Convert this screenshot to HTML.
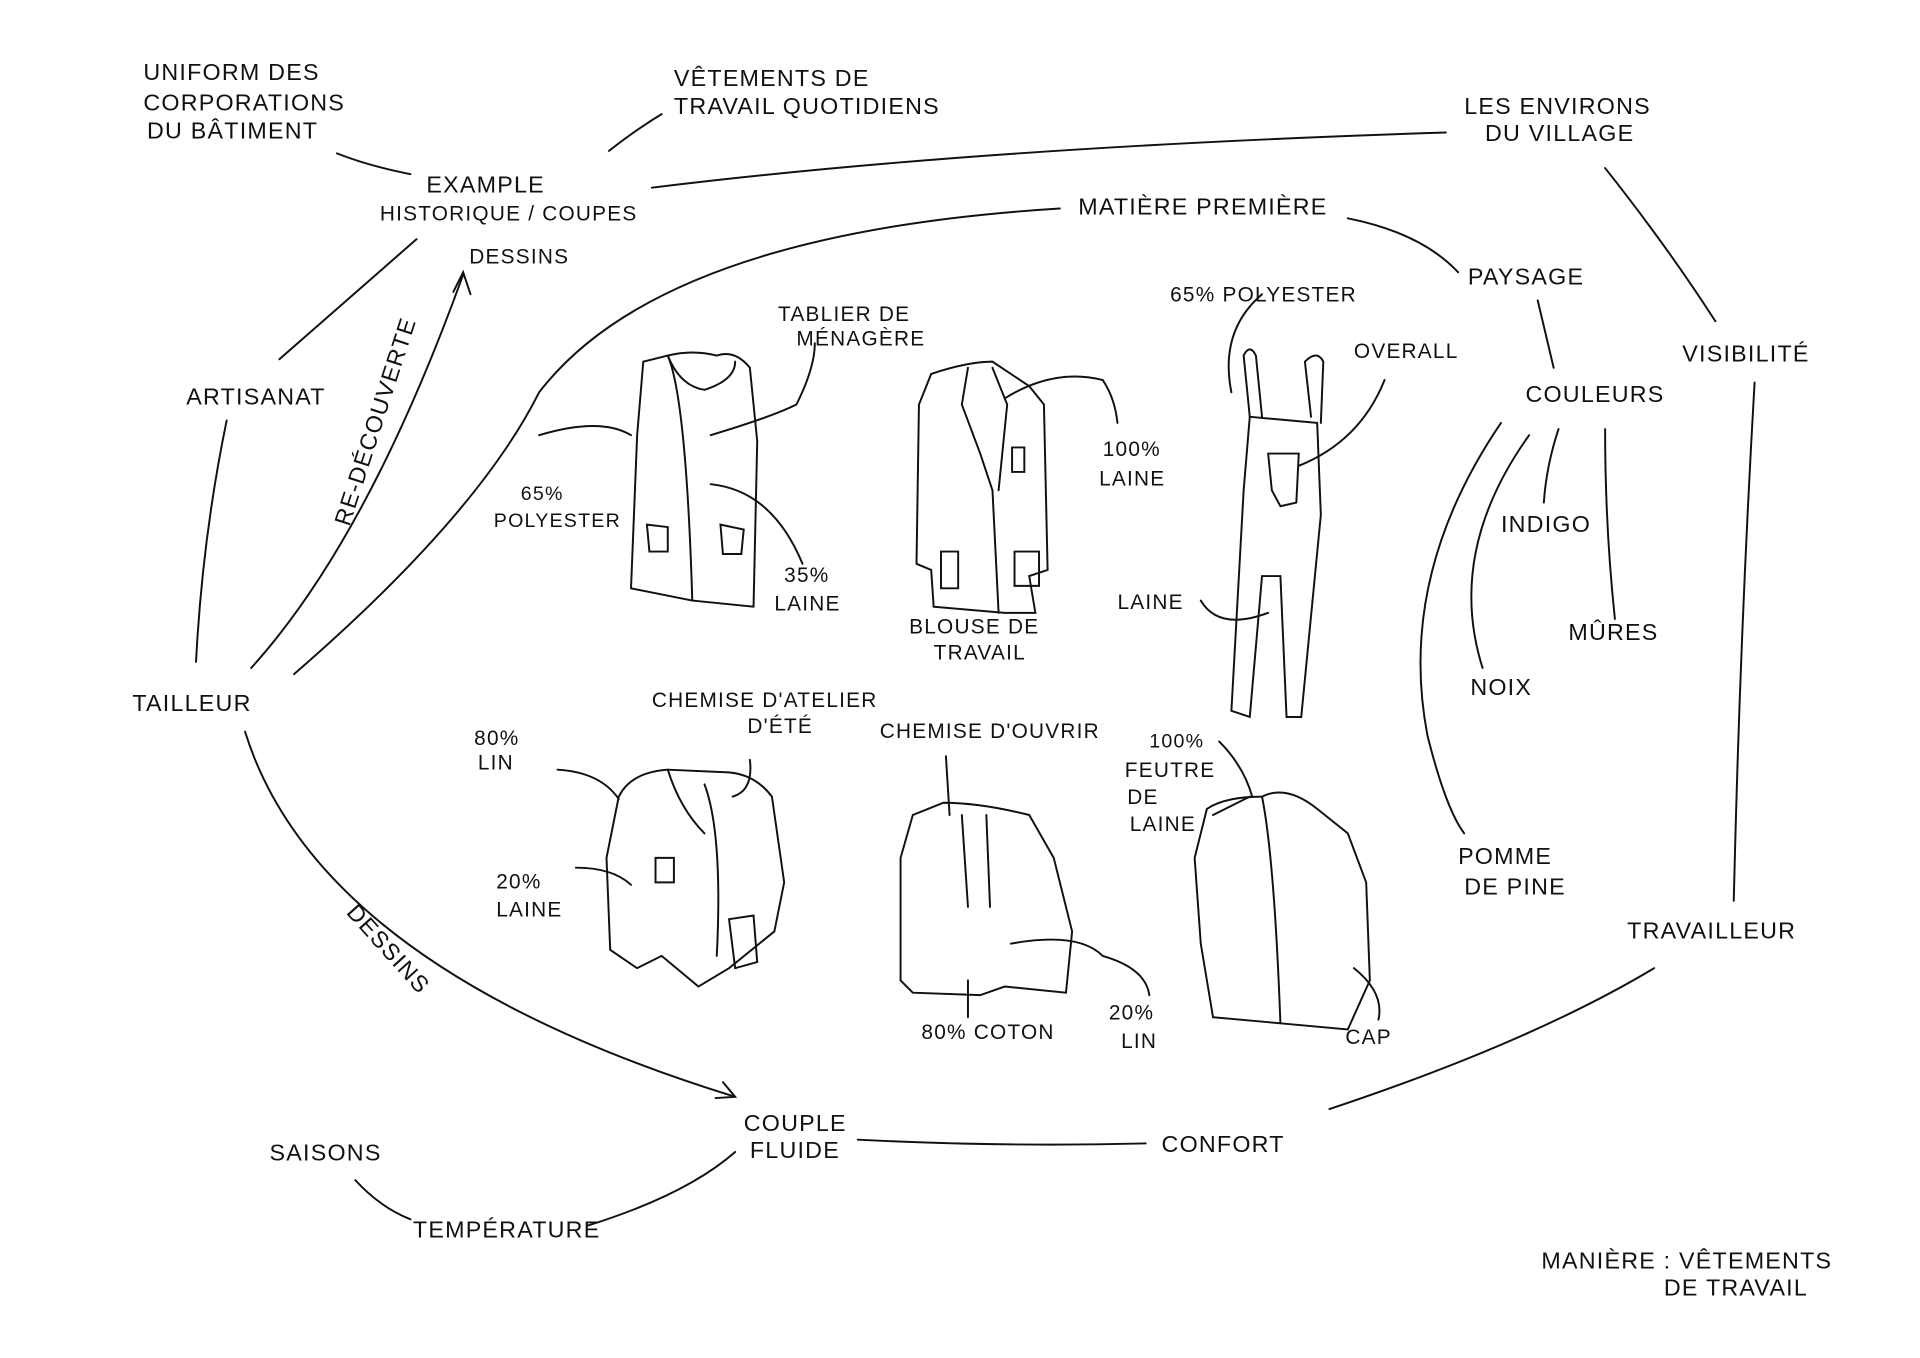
<!DOCTYPE html>
<html><head><meta charset="utf-8"><style>
html,body{margin:0;padding:0;background:#fff;}
svg{display:block}
text{font-family:"Liberation Sans",sans-serif;font-size:19px;fill:#111;letter-spacing:1px}
</style></head><body>
<svg width="1920" height="1358" viewBox="0 0 1567 1108" xmlns="http://www.w3.org/2000/svg">
<rect width="1567" height="1108" fill="#fff"/>
<g fill="none" stroke="#111" stroke-width="1.6" stroke-linecap="round">
<!-- connectors -->
<path d="M275,125 Q300,135 335,142"/>
<path d="M497,123 Q520,105 540,93"/>
<path d="M532,153 Q800,120 1180,108"/>
<path d="M1310,137 Q1360,200 1400,262"/>
<path d="M228,293 L340,195"/>
<path d="M185,343 Q165,440 160,540"/>
<path d="M205,545 Q300,440 378,224"/>
<path d="M370,238 L378,222 L384,240"/>
<path d="M240,550 Q390,420 440,320 Q540,190 865,170"/>
<path d="M1100,178 Q1160,190 1190,222"/>
<path d="M1255,245 Q1262,275 1268,300"/>
<path d="M1432,312 Q1420,520 1415,735"/>
<path d="M1248,355 Q1180,450 1210,545"/>
<path d="M1272,350 Q1262,380 1260,410"/>
<path d="M1310,350 Q1310,430 1318,505"/>
<path d="M1225,345 Q1140,470 1165,600 Q1180,660 1195,680"/>
<path d="M200,597 Q260,790 600,895"/>
<path d="M584,896 L600,895 L590,883"/>
<path d="M700,930 Q820,936 935,933"/>
<path d="M1085,905 Q1250,850 1350,790"/>
<path d="M290,963 Q310,985 335,995"/>
<path d="M480,1000 Q560,975 600,940"/>
<!-- garment 1 tablier -->
<path d="M525,295 L520,355 L515,480 L565,490 L615,495 L618,360 L612,300 Q600,285 585,290 Q565,285 545,290 Z"/>
<path d="M545,290 Q560,325 565,490"/>
<path d="M545,290 Q555,315 575,318 Q600,310 600,295"/>
<path d="M528,428 L530,450 L545,450 L545,430 Z"/>
<path d="M588,428 L590,452 L605,452 L607,432 Z"/>
<path d="M440,355 Q490,340 515,355"/>
<path d="M580,355 Q630,340 650,330 Q665,300 665,280"/>
<path d="M580,395 Q630,400 655,460"/>
<!-- garment 2 blouse -->
<path d="M760,305 L750,330 L748,460 L760,465 L762,495 L820,500 L845,500 L840,470 L855,465 L852,330 L840,315 L810,295 Q790,295 760,305 Z"/>
<path d="M790,300 L785,330 L800,370 L810,400 L815,500"/>
<path d="M810,300 L822,330 L815,400"/>
<path d="M826,365 L836,365 L836,385 L826,385 Z"/>
<path d="M768,450 L768,480 L782,480 L782,450 Z"/>
<path d="M828,450 L828,478 L848,478 L848,450 Z"/>
<path d="M820,325 Q860,300 900,310 Q910,325 912,345"/>
<path d="M830,380"/>
<!-- overall -->
<path d="M1020,340 L1015,400 L1005,580 L1020,585 L1030,470 L1045,470 L1050,585 L1062,585 L1078,420 L1075,345 Z"/>
<path d="M1020,340 L1015,290 Q1020,280 1025,290 L1030,340"/>
<path d="M1070,340 L1065,295 Q1075,285 1080,295 L1078,345"/>
<path d="M1035,370 L1060,370 L1058,410 L1045,413 L1038,400 Z"/>
<path d="M1060,380 Q1110,360 1130,310"/>
<path d="M1030,240 Q995,270 1005,320"/>
<path d="M980,490 Q995,515 1035,500"/>
<!-- chemise atelier -->
<path d="M505,650 L495,700 L498,775 L520,790 L540,780 L570,805 L595,790 L632,760 L640,720 L630,650 Q615,630 590,630 L545,628 Q515,630 505,650 Z"/>
<path d="M545,628 Q555,660 575,680"/>
<path d="M575,640 Q590,680 585,780"/>
<path d="M535,700 L535,720 L550,720 L550,700 Z"/>
<path d="M595,750 L600,790 L618,785 L615,747 Z"/>
<path d="M455,628 Q490,630 505,652"/>
<path d="M470,708 Q500,708 515,722"/>
<path d="M612,620 Q615,645 598,650"/>
<!-- chemise ouvrir -->
<path d="M745,665 L735,700 L735,800 L745,810 L800,812 L820,805 L870,810 L875,760 L860,700 L840,665 Q800,655 770,655 Z"/>
<path d="M785,665 L790,740"/>
<path d="M805,665 L808,740"/>
<path d="M772,617 L775,665"/>
<path d="M790,800 L790,830"/>
<path d="M825,770 Q880,760 900,780 Q935,790 938,812"/>
<!-- cap -->
<path d="M985,660 L975,700 L980,770 L990,830 L1045,835 L1100,840 L1118,800 L1115,720 L1100,680 L1075,660 Q1050,640 1030,650 Q1000,650 985,660 Z"/>
<path d="M1030,650 Q1040,700 1045,835"/>
<path d="M995,605 Q1015,625 1022,650"/>
<path d="M1020,650 Q1000,660 990,665"/>
<path d="M1105,790 Q1130,810 1125,832"/>
</g>
<g>
<text x="117" y="65">UNIFORM DES</text>
<text x="117" y="90">CORPORATIONS</text>
<text x="120" y="113">DU BÂTIMENT</text>
<text x="550" y="70">VÊTEMENTS DE</text>
<text x="550" y="93">TRAVAIL QUOTIDIENS</text>
<text x="348" y="157">EXAMPLE</text>
<text x="310" y="180" style="font-size:17px">HISTORIQUE / COUPES</text>
<text x="383" y="215" style="font-size:17px">DESSINS</text>
<text x="1195" y="93">LES ENVIRONS</text>
<text x="1212" y="115">DU VILLAGE</text>
<text x="880" y="175">MATIÈRE PREMIÈRE</text>
<text x="1198" y="232">PAYSAGE</text>
<text x="1373" y="295">VISIBILITÉ</text>
<text x="1245" y="328">COULEURS</text>
<text x="1225" y="434">INDIGO</text>
<text x="1280" y="522">MÛRES</text>
<text x="1200" y="567">NOIX</text>
<text x="1190" y="705">POMME</text>
<text x="1195" y="730">DE PINE</text>
<text x="1328" y="766">TRAVAILLEUR</text>
<text x="152" y="330">ARTISANAT</text>
<text transform="translate(285,430) rotate(-72)">RE-DÉCOUVERTE</text>
<text x="108" y="580">TAILLEUR</text>
<text transform="translate(282,745) rotate(48)">DESSINS</text>
<text x="607" y="923">COUPLE</text>
<text x="612" y="945">FLUIDE</text>
<text x="948" y="940">CONFORT</text>
<text x="220" y="947">SAISONS</text>
<text x="337" y="1010">TEMPÉRATURE</text>
<text x="1258" y="1035">MANIÈRE : VÊTEMENTS</text>
<text x="1358" y="1057">DE TRAVAIL</text>
<text x="635" y="262" style="font-size:17px">TABLIER DE</text>
<text x="650" y="282" style="font-size:17px">MÉNAGÈRE</text>
<text x="955" y="246" style="font-size:17px">65% POLYESTER</text>
<text x="1105" y="292" style="font-size:17px">OVERALL</text>
<text x="900" y="372" style="font-size:17px">100%</text>
<text x="897" y="396" style="font-size:17px">LAINE</text>
<text x="425" y="408" style="font-size:16px">65%</text>
<text x="403" y="430" style="font-size:16px">POLYESTER</text>
<text x="640" y="475" style="font-size:17px">35%</text>
<text x="632" y="498" style="font-size:17px">LAINE</text>
<text x="742" y="517" style="font-size:17px">BLOUSE DE</text>
<text x="762" y="538" style="font-size:17px">TRAVAIL</text>
<text x="912" y="497" style="font-size:17px">LAINE</text>
<text x="532" y="577" style="font-size:17px">CHEMISE D'ATELIER</text>
<text x="610" y="598" style="font-size:17px">D'ÉTÉ</text>
<text x="718" y="602" style="font-size:17px">CHEMISE D'OUVRIR</text>
<text x="387" y="608" style="font-size:17px">80%</text>
<text x="390" y="628" style="font-size:17px">LIN</text>
<text x="938" y="610" style="font-size:16px">100%</text>
<text x="918" y="634" style="font-size:17px">FEUTRE</text>
<text x="920" y="656" style="font-size:17px">DE</text>
<text x="922" y="678" style="font-size:17px">LAINE</text>
<text x="405" y="725" style="font-size:17px">20%</text>
<text x="405" y="748" style="font-size:17px">LAINE</text>
<text x="752" y="848" style="font-size:17px">80% COTON</text>
<text x="905" y="832" style="font-size:17px">20%</text>
<text x="915" y="855" style="font-size:17px">LIN</text>
<text x="1098" y="852" style="font-size:17px">CAP</text>
</g>
</svg>
</body></html>
